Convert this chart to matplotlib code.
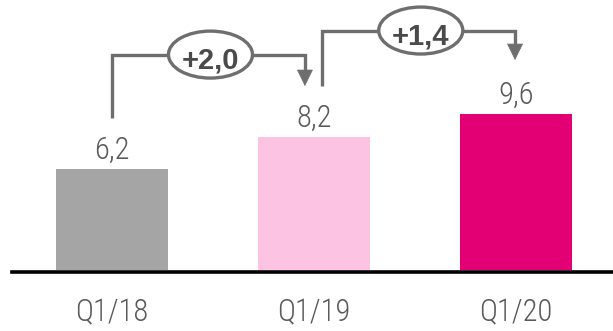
import matplotlib.pyplot as plt
from matplotlib.patches import Ellipse

quartale = ["Q1/18", "Q1/19", "Q1/20"]
werte = [6.2, 8.2, 9.6]
werte_txt = ["6,2", "8,2", "9,6"]
deltas = ["+2,0", "+1,4"]
farben = ["#a5a5a5", "#fdc3e2", "#e20074"]

schrift = "Roboto Condensed"
grau = "#6e6e6e"
text_grau = "#595959"

fig = plt.figure(figsize=(6.13, 3.31), dpi=100)
ax = fig.add_axes([12 / 613, 59 / 331, 601 / 613, 272 / 331])

x = list(range(len(werte)))
ax.bar(x, werte, width=0.555, color=farben, zorder=2)

for xi, w, t in zip(x, werte, werte_txt):
    ax.text(xi, w + 0.62, t, ha="center", va="baseline", fontsize=22,
            family=schrift, weight=300, color=text_grau)

ax.set_xlim(-0.495, 2.48)
ax.set_ylim(-0.123, 16.62)
ax.set_xticks(x, quartale, fontsize=22, family=schrift, weight=300, color=text_grau)
ax.tick_params(axis="x", length=0, pad=19)
ax.set_yticks([])
for s in ["top", "left", "right"]:
    ax.spines[s].set_visible(False)
ax.spines["bottom"].set_linewidth(2.6)
ax.spines["bottom"].set_color("black")

# Klammern mit Differenz: x links, y unten, y oben, x rechts, Pfeilspitze
klammern = [
    (x[0], werte[0] + 3.15, 13.26, x[1] - 0.045, werte[1] + 3.12),
    (x[1] + 0.042, werte[1] + 3.12, 14.74, x[2] - 0.005, werte[2] + 3.32),
]
kopf = 0.95
for (xl, yu, yo, xr, spitze), d in zip(klammern, deltas):
    ax.plot([xl, xl, xr, xr], [yu, yo, yo, spitze + kopf], color=grau,
            lw=2.4, solid_capstyle="butt", solid_joinstyle="miter", zorder=3)
    ax.annotate("", xy=(xr, spitze), xytext=(xr, spitze + kopf + 0.1),
                arrowprops=dict(arrowstyle="-|>,head_width=0.54,head_length=1.1",
                                mutation_scale=10, color=grau, lw=0.5,
                                shrinkA=0, shrinkB=0),
                zorder=3)
    xm = (xl + xr) / 2 + 0.01
    ax.add_patch(Ellipse((xm, yo), 0.416, 2.89, facecolor="white",
                         edgecolor=grau, lw=2.4, zorder=4))
    ax.text(xm, yo - 0.83, d, ha="center", va="baseline", fontsize=21,
            family="Liberation Sans", weight="bold", color="#4a4a4a", zorder=5)

fig.savefig("out.png", dpi=100)
